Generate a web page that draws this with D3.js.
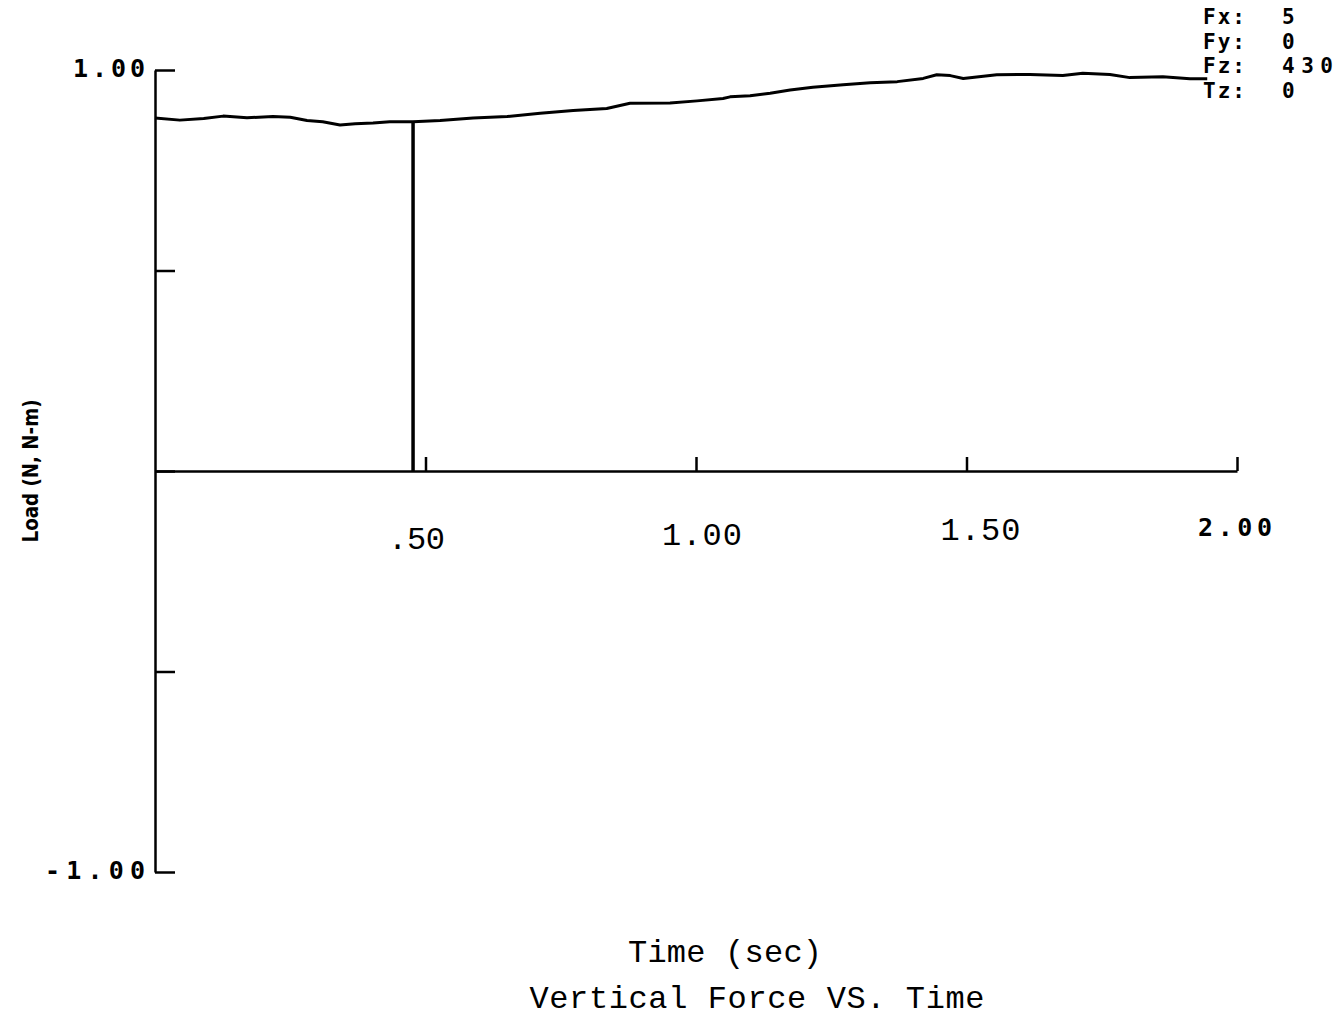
<!DOCTYPE html>
<html>
<head>
<meta charset="utf-8">
<script src="https://cdn.jsdelivr.net/npm/d3@7"></script>
<style>
  body { margin: 0; background: #fff; }
  svg { display: block; }
</style>
</head>
<body>
<div id="wrapper"><svg id="chart" width="1338" height="1018"></svg></div>
<script>
// values
var timeSec = [0, 0.046, 0.09, 0.126, 0.17, 0.218, 0.25, 0.281, 0.31, 0.342, 0.37, 0.403, 0.434, 0.477,
  0.527, 0.588, 0.651, 0.712, 0.773, 0.835, 0.878, 0.952, 1.002, 1.05, 1.063, 1.1, 1.137, 1.174,
  1.216, 1.272, 1.322, 1.372, 1.42, 1.445, 1.47, 1.494, 1.556, 1.617, 1.678, 1.715, 1.765, 1.802,
  1.863, 1.913, 1.945];
var loadVal = [0.880, 0.875, 0.879, 0.885, 0.881, 0.884, 0.882, 0.874, 0.871, 0.863, 0.866, 0.868, 0.871, 0.871,
  0.874, 0.880, 0.884, 0.892, 0.899, 0.904, 0.917, 0.918, 0.923, 0.929, 0.933, 0.936, 0.942, 0.950,
  0.957, 0.963, 0.968, 0.971, 0.979, 0.988, 0.986, 0.979, 0.988, 0.989, 0.986, 0.992, 0.989, 0.981,
  0.983, 0.978, 0.978];
var markerTime = 0.477;
var markerLoad = 0.871;

var xTicks = [0.5, 1.0, 1.5, 2.0];
var xTickLabels = [".50", "1.00", "1.50", "2.00"];
var yTicks = [-1, -0.5, 0, 0.5, 1];
var yLabelValues = [1, -1];
var yTickLabels = ["1.00", "-1.00"];
var legendKeys = ["Fx:", "Fy:", "Fz:", "Tz:"];
var legendVals = ["5", "0", "430", "0"];

var svg = d3.select("#chart");
var x = d3.scaleLinear().domain([0, 2]).range([155, 1237]);
var y = d3.scaleLinear().domain([-1, 1]).range([872, 70]);

// y axis, ticks pointing into the plot
var yAxis = svg.append("g")
  .attr("transform", "translate(" + x(0) + ",0)")
  .call(d3.axisRight(y).tickValues(yTicks).tickSize(20).tickSizeOuter(0).tickFormat(""));
yAxis.selectAll("path, line").attr("stroke", "#000").attr("stroke-width", 2.5);

// x axis through zero, ticks pointing up
var xAxis = svg.append("g")
  .attr("transform", "translate(0," + y(0) + ")")
  .call(d3.axisTop(x).tickValues(xTicks).tickSize(14).tickSizeOuter(0).tickFormat(""));
xAxis.selectAll("path, line").attr("stroke", "#000").attr("stroke-width", 2.5);

// x tick labels (typewriter font, last one bold plotter font)
svg.append("g").selectAll("text")
  .data(xTicks)
  .enter()
  .append("text")
  .attr("x", (d, i) => x(d) + (i == 0 ? -9 : i == 2 ? 14 : i == 1 ? 6 : -2))
  .attr("y", (d, i) => 549 - i * 4.5)
  .attr("text-anchor", "middle")
  .style("font-family", (d, i) => i == 3 ? "DejaVu Sans Mono" : "Liberation Mono")
  .style("font-weight", (d, i) => i == 3 ? "bold" : "normal")
  .style("font-size", (d, i) => i == 3 ? "25px" : "32px")
  .attr("textLength", (d, i) => i == 0 ? 57 : i == 3 ? 74 : 80)
  .text((d, i) => xTickLabels[i]);

// y tick labels
svg.append("g").selectAll("text")
  .data(yLabelValues)
  .enter()
  .append("text")
  .attr("x", 145)
  .attr("y", (d) => y(d) + 7)
  .attr("text-anchor", "end")
  .style("font-family", "DejaVu Sans Mono")
  .style("font-weight", "bold")
  .style("font-size", "25px")
  .attr("textLength", (d, i) => i == 0 ? 72 : 100)
  .text((d, i) => yTickLabels[i]);

// the load trace
var line = d3.line()
  .x((d) => x(d[0]))
  .y((d) => y(d[1]));
svg.append("path")
  .attr("d", line(timeSec.map((t, i) => [t, loadVal[i]])))
  .attr("fill", "none")
  .attr("stroke", "#000")
  .attr("stroke-width", 3)
  .attr("stroke-linejoin", "round");

// cursor line
svg.append("line")
  .attr("x1", x(markerTime)).attr("x2", x(markerTime))
  .attr("y1", y(markerLoad)).attr("y2", y(0))
  .attr("stroke", "#000")
  .attr("stroke-width", 3.5);

// y axis title
svg.append("text")
  .attr("transform", "translate(38," + y(0) + ") rotate(-90)")
  .attr("text-anchor", "middle")
  .style("font-family", "DejaVu Sans Condensed, DejaVu Sans")
  .style("font-weight", "bold")
  .style("font-size", "21px")
  .attr("textLength", 143)
  .attr("lengthAdjust", "spacingAndGlyphs")
  .text("Load (N, N-m)");

// bottom titles
svg.append("text")
  .attr("x", 725).attr("y", 962)
  .attr("text-anchor", "middle")
  .style("font-family", "Liberation Mono")
  .style("font-size", "32px")
  .attr("textLength", 194)
  .text("Time (sec)");
svg.append("text")
  .attr("x", 757).attr("y", 1008)
  .attr("text-anchor", "middle")
  .style("font-family", "Liberation Mono")
  .style("font-size", "32px")
  .attr("textLength", 455)
  .text("Vertical Force VS. Time");

// force readout, top right
var legend = svg.append("g").attr("transform", "translate(1203,0)");
legend.selectAll("text.key")
  .data(legendKeys)
  .enter()
  .append("text")
  .attr("class", "key")
  .attr("x", 0)
  .attr("y", (d, i) => 24 + i * 24.5)
  .style("font-family", "DejaVu Sans Mono")
  .style("font-weight", "bold")
  .style("font-size", "21px")
  .attr("textLength", 42)
  .text((d) => d);
legend.selectAll("text.val")
  .data(legendVals)
  .enter()
  .append("text")
  .attr("class", "val")
  .attr("x", 79)
  .attr("y", (d, i) => 24 + i * 24.5)
  .style("font-family", "DejaVu Sans Mono")
  .style("font-weight", "bold")
  .style("font-size", "21px")
  .attr("textLength", (d) => d.length * 17)
  .text((d) => d);
</script>
</body>
</html>
